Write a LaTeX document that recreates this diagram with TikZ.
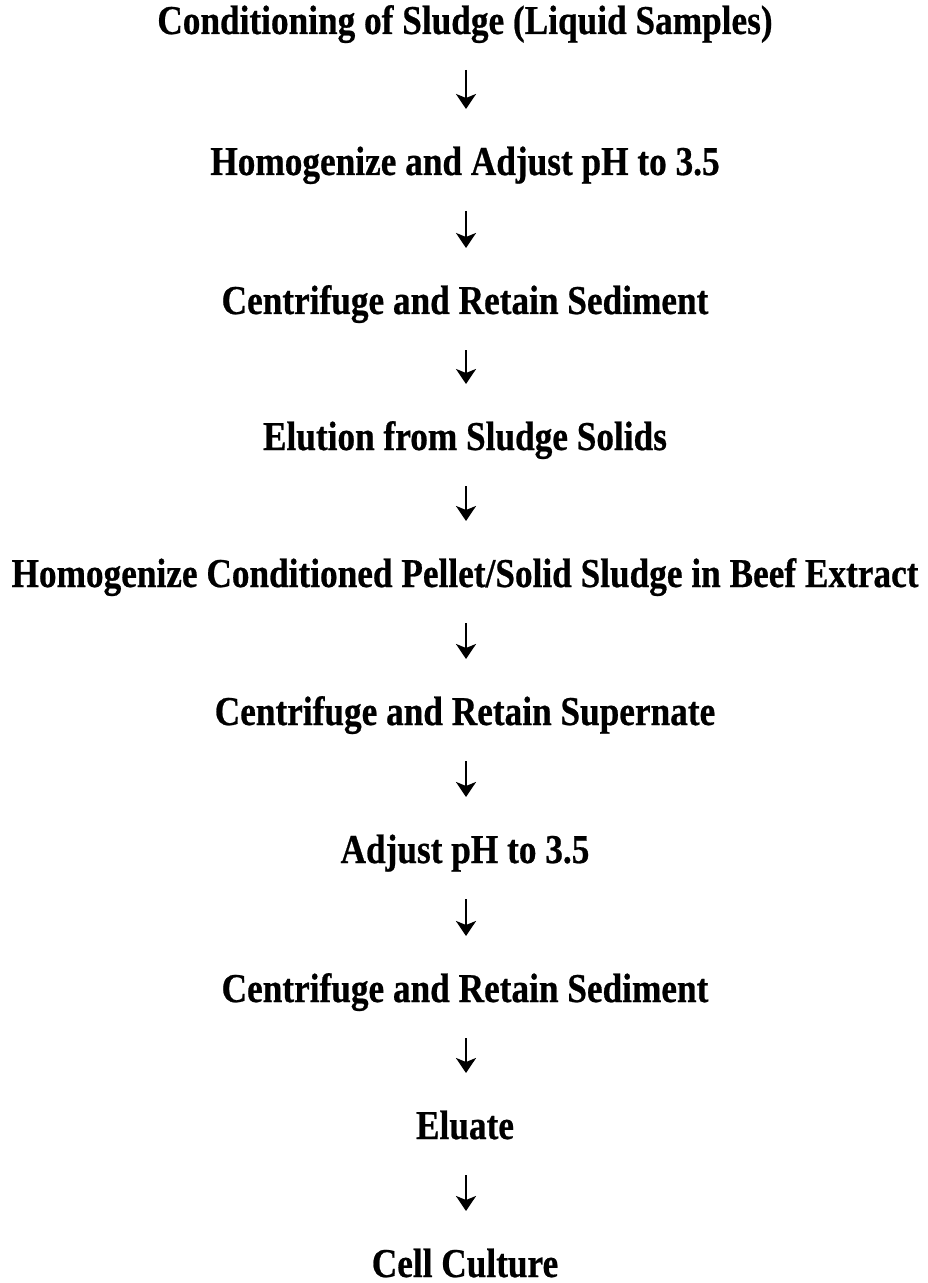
\documentclass[tikz,border=0pt]{standalone}
\usepackage{fontspec}
\setmainfont[FakeStretch=0.86,BoldFeatures={FakeBold=0.6}]{Liberation Serif}
\usetikzlibrary{arrows.meta}
\begin{document}
\begin{tikzpicture}[x=0.5pt,y=-0.5pt,
  steplabel/.style={anchor=base,inner sep=0pt,font=\bfseries\fontsize{20.5}{24}\selectfont},
  arr/.style={line width=1.3pt,-{Stealth[length=7.5pt,width=10pt,inset=2pt]},shorten <=18pt,shorten >=33pt}]
\useasboundingbox (0,0) rectangle (927,1283);
\node[steplabel] (s1) at (465,34) {Conditioning of Sludge (Liquid Samples)};
\node[steplabel] (s2) at (465,175) {Homogenize and Adjust pH to 3.5};
\node[steplabel] (s3) at (465,314) {Centrifuge and Retain Sediment};
\node[steplabel] (s4) at (465,450) {Elution from Sludge Solids};
\node[steplabel] (s5) at (465,587) {Homogenize Conditioned Pellet/Solid Sludge in Beef Extract};
\node[steplabel] (s6) at (465,725) {Centrifuge and Retain Supernate};
\node[steplabel] (s7) at (465,863) {Adjust pH to 3.5};
\node[steplabel] (s8) at (465,1002) {Centrifuge and Retain Sediment};
\node[steplabel] (s9) at (465,1139) {Eluate};
\node[steplabel] (s10) at (465,1277) {Cell Culture};
\foreach \a/\b in {s1/s2,s2/s3,s3/s4,s4/s5,s5/s6,s6/s7,s7/s8,s8/s9,s9/s10}
  \draw[arr] ([xshift=0.5pt]\a.base) -- ([xshift=0.5pt]\b.base);
\end{tikzpicture}
\end{document}
